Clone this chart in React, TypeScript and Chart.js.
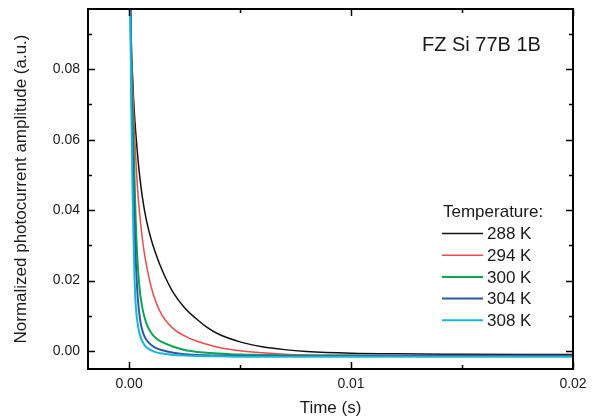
import React, { useEffect, useRef } from "react";
import { Chart, registerables } from "chart.js";

Chart.register(...registerables);

// ---- data ----
const TIMES = [0, 0.0001, 0.00015, 0.0002, 0.00025, 0.0003, 0.0004, 0.0005, 0.0006, 0.0007, 0.0008, 0.001, 0.0012, 0.0015, 0.002, 0.0025, 0.003, 0.0035, 0.004, 0.005, 0.006, 0.007, 0.008, 0.01, 0.012, 0.015, 0.02];

const AMP_288K = [0.13, 0.088, 0.079, 0.072, 0.0665, 0.062, 0.0545, 0.0485, 0.0437, 0.0398, 0.0366, 0.0316, 0.0277, 0.0228, 0.0165, 0.0123, 0.0093, 0.0068, 0.0049, 0.0026, 0.0012, 0.0004, -0.0001, -0.0006, -0.0008, -0.0009, -0.001];
const AMP_294K = [0.13, 0.086, 0.077, 0.069, 0.0615, 0.055, 0.0445, 0.0375, 0.0318, 0.0274, 0.0238, 0.0181, 0.0141, 0.01, 0.0063, 0.0043, 0.0029, 0.0019, 0.0011, 0.0001, -0.0005, -0.0009, -0.0011, -0.0012, -0.0013, -0.0013, -0.0013];
const AMP_300K = [0.13, 0.082, 0.071, 0.06, 0.048, 0.037, 0.0235, 0.0163, 0.0122, 0.0095, 0.0076, 0.0051, 0.0037, 0.0025, 0.0012, 0.0003, -0.0002, -0.0005, -0.0007, -0.001, -0.0011, -0.0012, -0.0013, -0.0013, -0.0014, -0.0014, -0.0014];
const AMP_304K = [0.13, 0.078, 0.062, 0.047, 0.035, 0.026, 0.0145, 0.0088, 0.0058, 0.0041, 0.003, 0.0017, 0.0009, 0.0002, -0.0005, -0.0009, -0.0011, -0.0012, -0.0013, -0.0014, -0.0014, -0.0014, -0.0014, -0.0014, -0.0014, -0.0014, -0.0014];
const AMP_308K = [0.13, 0.07, 0.048, 0.032, 0.02, 0.013, 0.0072, 0.0043, 0.0027, 0.0017, 0.001, 0.0002, -0.0003, -0.0007, -0.0011, -0.0013, -0.0014, -0.0015, -0.0015, -0.0016, -0.0016, -0.0016, -0.0016, -0.0016, -0.0016, -0.0016, -0.0016];

const SERIES = [AMP_288K, AMP_294K, AMP_300K, AMP_304K, AMP_308K];
const SERIES_LABELS = ["288 K", "294 K", "300 K", "304 K", "308 K"];
const SERIES_COLORS = ["#111111", "#ef4b4b", "#0aa650", "#2f57a8", "#17b6d2"];
const SERIES_WIDTHS = [1.5, 1.5, 2, 2, 2];

const X_TICKS = [0, 0.01, 0.02];
const X_MINOR = [0.005, 0.015];
const Y_TICKS = [0, 0.02, 0.04, 0.06, 0.08];
const Y_MINOR = [0.01, 0.03, 0.05, 0.07, 0.09];

const X_MIN = -0.00185;
const X_MAX = 0.02;
const Y_MIN = -0.0051;
const Y_MAX = 0.0971;

const SAMPLE_NAME = "FZ Si 77B 1B";
const LEGEND_TITLE = "Temperature:";
const X_TITLE = "Time (s)";
const Y_TITLE = "Normalized photocurrent amplitude (a.u.)";

const FONT = "'Liberation Sans', Arial, Helvetica, sans-serif";
const TEXT_COLOR = "#1a1a1a";

const framePlugin = {
  id: "frameAndLegend",
  afterDatasetsDraw(chart: any) {
    const { ctx, chartArea } = chart;
    const xs = chart.scales.x;
    const ys = chart.scales.y;
    const { left, right, top, bottom } = chartArea;
    ctx.save();
    ctx.strokeStyle = "#000";
    ctx.lineWidth = 1.5;
    const major = 7;
    const minor = 4;
    const drawX = (v: number, len: number) => {
      const px = Math.round(xs.getPixelForValue(v)) + 0.5;
      ctx.beginPath();
      ctx.moveTo(px, bottom);
      ctx.lineTo(px, bottom - len);
      ctx.moveTo(px, top);
      ctx.lineTo(px, top + len);
      ctx.stroke();
    };
    const drawY = (v: number, len: number) => {
      const py = Math.round(ys.getPixelForValue(v)) + 0.5;
      ctx.beginPath();
      ctx.moveTo(left, py);
      ctx.lineTo(left + len, py);
      ctx.moveTo(right, py);
      ctx.lineTo(right - len, py);
      ctx.stroke();
    };
    X_TICKS.forEach((v) => drawX(v, major));
    X_MINOR.forEach((v) => drawX(v, minor));
    Y_TICKS.forEach((v) => drawY(v, major));
    Y_MINOR.forEach((v) => drawY(v, minor));
    ctx.lineWidth = 2;
    ctx.strokeRect(left, top, right - left, bottom - top);

    ctx.fillStyle = TEXT_COLOR;
    ctx.textBaseline = "middle";
    ctx.textAlign = "left";
    ctx.font = `20px ${FONT}`;
    ctx.fillText(SAMPLE_NAME, right - 151, top + 36);

    ctx.font = `17px ${FONT}`;
    const lx = right - 130;
    ctx.fillText(LEGEND_TITLE, lx, top + 203);
    chart.data.datasets.forEach((ds: any, i: number) => {
      const y = top + 224.5 + i * 21.7;
      ctx.strokeStyle = ds.borderColor;
      ctx.lineWidth = ds.borderWidth;
      ctx.beginPath();
      ctx.moveTo(lx - 1, y);
      ctx.lineTo(lx + 40, y);
      ctx.stroke();
      ctx.fillStyle = TEXT_COLOR;
      ctx.fillText(ds.label, lx + 44, y + 1);
    });
    ctx.restore();
  },
};

export default function App() {
  const canvasRef = useRef<HTMLCanvasElement | null>(null);

  useEffect(() => {
    const canvas = canvasRef.current;
    if (!canvas) return;
    const datasets = SERIES.map((vals, i) => ({
      label: SERIES_LABELS[i],
      data: TIMES.map((t, j) => ({ x: t, y: vals[j] })),
      borderColor: SERIES_COLORS[i],
      backgroundColor: SERIES_COLORS[i],
      borderWidth: SERIES_WIDTHS[i],
      pointRadius: 0,
      cubicInterpolationMode: "monotone" as const,
      fill: false,
      order: SERIES.length - 1 - i,
    }));
    const chart = new Chart(canvas, {
      type: "line",
      data: { datasets },
      options: {
        animation: false,
        responsive: false,
        devicePixelRatio: 1,
        layout: { padding: { top: 9, right: 21, left: 0, bottom: 0 } },
        plugins: {
          legend: { display: false },
          tooltip: { enabled: false },
        },
        scales: {
          x: {
            type: "linear",
            min: X_MIN,
            max: X_MAX,
            grid: { display: false, drawTicks: false },
            border: { display: false },
            afterBuildTicks: (scale: any) => {
              scale.ticks = X_TICKS.map((v) => ({ value: v }));
            },
            afterFit: (scale: any) => {
              scale.height = 51;
              scale.paddingLeft = 0;
              scale.paddingRight = 0;
            },
            ticks: {
              padding: 7,
              color: TEXT_COLOR,
              font: { family: FONT, size: 14 },
              maxRotation: 0,
              callback: (v: any) => Number(v).toFixed(2),
            },
            title: {
              display: true,
              text: X_TITLE,
              color: TEXT_COLOR,
              font: { family: FONT, size: 17 },
              padding: { top: 0, bottom: 1 },
            },
          },
          y: {
            type: "linear",
            min: Y_MIN,
            max: Y_MAX,
            grid: { display: false, drawTicks: false },
            border: { display: false },
            afterBuildTicks: (scale: any) => {
              scale.ticks = Y_TICKS.map((v) => ({ value: v }));
            },
            afterFit: (scale: any) => {
              scale.width = 88;
              scale.paddingTop = 0;
              scale.paddingBottom = 0;
            },
            ticks: {
              padding: 8,
              color: TEXT_COLOR,
              font: { family: FONT, size: 14 },
              callback: (v: any) => Number(v).toFixed(2),
            },
            title: {
              display: true,
              text: Y_TITLE,
              color: TEXT_COLOR,
              font: { family: FONT, size: 17 },
              padding: { top: 11, bottom: 0 },
            },
          },
        },
      },
      plugins: [framePlugin],
    });
    return () => chart.destroy();
  }, []);

  return (
    <div style={{ position: "fixed", left: 0, top: 0, width: 594, height: 420, background: "#fff" }}>
      <canvas ref={canvasRef} width={594} height={420} style={{ width: 594, height: 420, display: "block" }} />
    </div>
  );
}
